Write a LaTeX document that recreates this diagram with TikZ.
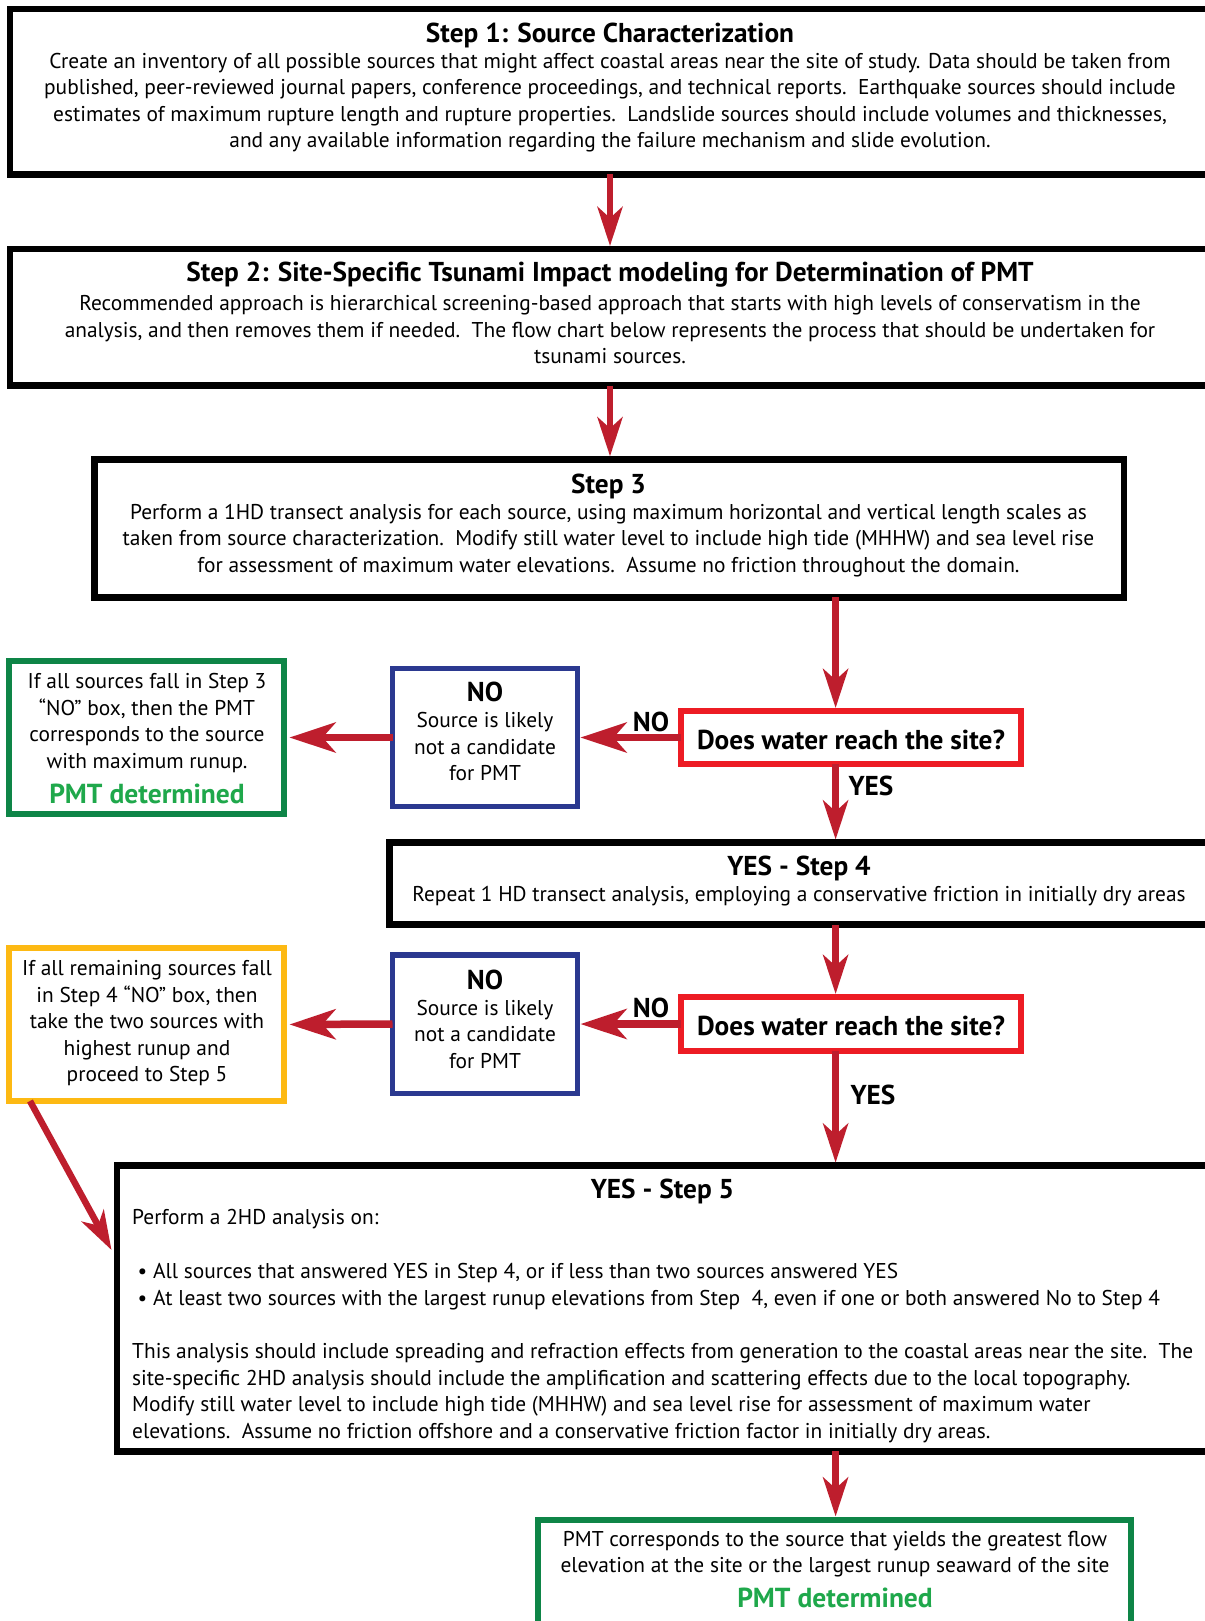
\documentclass[tikz,border=0pt]{standalone}
\usepackage{fontspec}
\setmainfont{PT Sans}
\usetikzlibrary{arrows.meta}
\definecolor{arrred}{HTML}{BE1E2D}
\definecolor{boxred}{HTML}{ED1C24}
\definecolor{boxblue}{HTML}{2B3990}
\definecolor{boxgreen}{HTML}{0E8547}
\definecolor{txtgreen}{HTML}{1FA84B}
\definecolor{boxyellow}{HTML}{FDB913}
\tikzset{
  body/.style={font=\fontsize{21.4}{26.5}\selectfont, align=center, inner sep=0pt},
  bodyl/.style={font=\fontsize{21.4}{26.5}\selectfont, align=left, inner sep=0pt, anchor=west},
  ttl/.style={font=\bfseries\fontsize{27.3}{28}\selectfont, inner sep=0pt},
  pmt/.style={font=\bfseries\fontsize{27.5}{28}\selectfont, text=txtgreen, inner sep=0pt},
  blk/.style={draw=black, line width=6.5pt, inner sep=0pt, outer sep=0pt},
  redbox/.style={draw=boxred, line width=6pt, inner sep=0pt, outer sep=0pt},
  bluebox/.style={draw=boxblue, line width=5.5pt, inner sep=0pt, outer sep=0pt},
  greenbox/.style={draw=boxgreen, line width=6pt, inner sep=0pt, outer sep=0pt},
  yelbox/.style={draw=boxyellow, line width=6pt, inner sep=0pt, outer sep=0pt},
  arrv/.style={draw=arrred, line width=6.5pt, -{Stealth[length=39pt, width=25pt, inset=11pt]}},
  arrh/.style={draw=arrred, line width=7.5pt, -{Stealth[length=46pt, width=30pt, inset=13pt]}}
}
\begin{document}
\begin{tikzpicture}[x=1pt,y=-1pt]
\useasboundingbox[fill=white] (0,0) rectangle (1204,1621);
% boxes
\node[blk, minimum width=1200pt, minimum height=165.5pt] (s1) at (610,91.75) {};
\node[blk, minimum width=1200pt, minimum height=136.5pt] (s2) at (610,317.25) {};
\node[blk, minimum width=1029.7pt, minimum height=138pt] (s3) at (609.15,528.3) {};
\node[redbox, minimum width=340pt, minimum height=53pt] (d1) at (851,737.5) {};
\node[bluebox, minimum width=185pt, minimum height=138pt] (n1) at (485,737.5) {};
\node[greenbox, minimum width=274.5pt, minimum height=153pt] (g1) at (146.25,737.5) {};
\node[blk, minimum width=819pt, minimum height=82pt] (s4) at (799,883.5) {};
\node[redbox, minimum width=340pt, minimum height=54pt] (d2) at (851,1024) {};
\node[bluebox, minimum width=185pt, minimum height=138.5pt] (n2) at (485,1024) {};
\node[yelbox, minimum width=274.5pt, minimum height=153pt] (y1) at (146.25,1024.5) {};
\node[blk, minimum width=1091pt, minimum height=285.7pt] (s5) at (662.5,1308.5) {};
\node[greenbox, minimum width=593pt, minimum height=140.5pt] (f1) at (834.5,1589.75) {};
% texts
\node[ttl] (t1) at (610,35) {Step 1: Source Characterization};
\node[body] (b1) at (610,102.75) {Create an inventory of all possible sources that might affect coastal areas near the site of study. Data should be taken from\\published, peer-reviewed journal papers, conference proceedings, and technical reports.\ \ Earthquake sources should include\\estimates of maximum rupture length and rupture properties.\ \ Landslide sources should include volumes and thicknesses,\\and any available information regarding the failure mechanism and slide evolution.};
\node[ttl] (t2) at (610,275) {Step 2: Site-Specific Tsunami Impact modeling for Determination of PMT};
\node[body] (b2) at (610,329.75) {Recommended approach is hierarchical screening-based approach that starts with high levels of conservatism in the\\analysis, and then removes them if needed.\ \ The flow chart below represents the process that should be undertaken for\\tsunami sources.};
\node[ttl] (t3) at (608.5,486) {Step 3};
\node[body] (b3) at (608.5,540.3) {Perform a 1HD transect analysis for each source, using maximum horizontal and vertical length scales as\\taken from source characterization.\ \ Modify still water level to include high tide (MHHW) and sea level rise\\for assessment of maximum water elevations.\ \ Assume no friction throughout the domain.};
\node[ttl] (q1) at (851,739.5) {Does water reach the site?};
\node[ttl] (no1) at (651,721.5) {NO};
\node[ttl] (yes1) at (871,785.5) {YES};
\node[ttl] (nt1) at (485,692) {NO};
\node[body] (nb1) at (485,747) {Source is likely\\not a candidate\\for PMT};
\node[body] (gb1) at (147,723.25) {If all sources fall in Step 3\\“NO” box, then the PMT\\corresponds to the source\\with maximum runup.};
\node[pmt] (gp1) at (147,793.6) {PMT determined};
\node[ttl] (t4) at (799,868) {YES - Step 4};
\node[body] (b4) at (799,896) {Repeat 1 HD transect analysis, employing a conservative friction in initially dry areas};
\node[ttl] (q2) at (851,1025.5) {Does water reach the site?};
\node[ttl] (no2) at (651,1008) {NO};
\node[ttl] (yes2) at (873,1094.5) {YES};
\node[ttl] (nt2) at (485,980) {NO};
\node[body] (nb2) at (485,1034) {Source is likely\\not a candidate\\for PMT};
\node[body] (yb1) at (147,1023.5) {If all remaining sources fall\\in Step 4 “NO” box, then\\take the two sources with\\highest runup and\\proceed to Step 5};
\node[ttl] (t5) at (662.5,1191.5) {YES - Step 5};
\node[bodyl] (p5) at (132,1219.5) {Perform a 2HD analysis on:};
\node[bodyl] (l5) at (137.5,1286.5) {\textbullet\ All sources that answered YES in Step 4, or if less than two sources answered YES\\\textbullet\ At least two sources with the largest runup elevations from Step\ \ 4, even if one or both answered No to Step 4};
\node[bodyl] (q5) at (132,1393) {This analysis should include spreading and refraction effects from generation to the coastal areas near the site.\ \ The\\site-specific 2HD analysis should include the amplification and scattering effects due to the local topography.\\Modify still water level to include high tide (MHHW) and sea level rise for assessment of maximum water\\elevations.\ \ Assume no friction offshore and a conservative friction factor in initially dry areas.};
\node[body] (fb1) at (835,1554) {PMT corresponds to the source that yields the greatest flow\\elevation at the site or the largest runup seaward of the site};
\node[pmt] (fp1) at (835,1597.5) {PMT determined};
% connectors
\coordinate (vx) at (835.6,0);
\coordinate (dtip) at (111.5,1250);
\draw[arrv, shorten >=3pt] (s1.south) -- (s2.north);
\draw[arrv, shorten >=3pt] (s2.south) -- (s2.south |- s3.north);
\draw[arrv, shorten >=3pt] (s3.south -| vx) -- (d1.north -| vx);
\draw[arrv, shorten >=3pt] (d1.south -| vx) -- (s4.north -| vx);
\draw[arrv, shorten >=3pt] (s4.south -| vx) -- (d2.north -| vx);
\draw[arrv, shorten >=3pt] (d2.south -| vx) -- (s5.north -| vx);
\draw[arrv, shorten >=3pt] (s5.south -| vx) -- (f1.north -| vx);
\draw[arrh, shorten >=3pt] (d1.west) -- (n1.east);
\draw[arrh, shorten >=6pt] (n1.west) -- (g1.east);
\draw[arrh, shorten >=3pt] (d2.west) -- (n2.east);
\draw[arrh, shorten >=6pt] (n2.west) -- (y1.east);
\draw[arrv] ([xshift=21pt]y1.south west) -- (dtip);
\end{tikzpicture}
\end{document}
